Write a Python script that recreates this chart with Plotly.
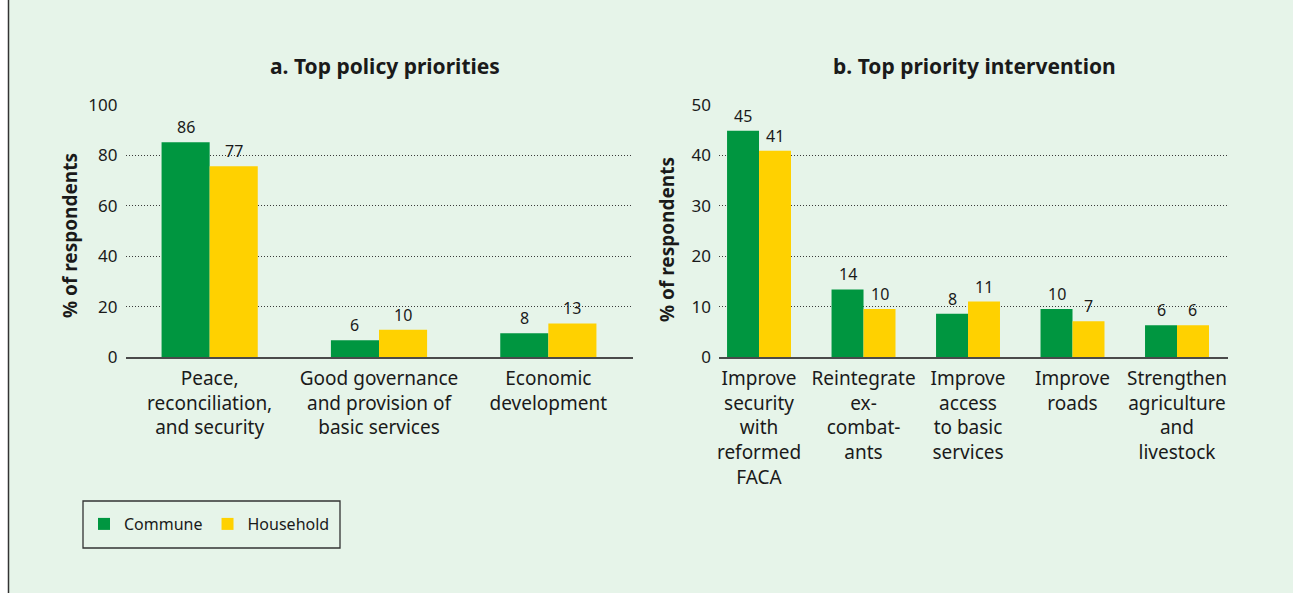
import plotly.graph_objects as go

W, H = 1293, 593

# ---------------- data ----------------
cats_a = ["Peace,<br>reconciliation,<br>and security",
          "Good governance<br>and provision of<br>basic services",
          "Economic<br>development"]
commune_a = [85.2, 6.6, 9.4]
household_a = [75.7, 10.8, 13.3]
commune_a_lbl = ["86", "6", "8"]
household_a_lbl = ["77", "10", "13"]

cats_b = ["Improve<br>security<br>with<br>reformed<br>FACA",
          "Reintegrate<br>ex-<br>combat-<br>ants",
          "Improve<br>access<br>to basic<br>services",
          "Improve<br>roads",
          "Strengthen<br>agriculture<br>and<br>livestock"]
commune_b = [44.9, 13.4, 8.6, 9.5, 6.3]
household_b = [40.9, 9.5, 11.0, 7.1, 6.3]
commune_b_lbl = ["45", "14", "8", "10", "6"]
household_b_lbl = ["41", "10", "11", "7", "6"]

title_a = "a. Top policy priorities"
title_b = "b. Top priority intervention"
ytitle = "% of respondents"
series_names = ["Commune", "Household"]

# ---------------- style ----------------
FONT = "Noto Sans, Open Sans, sans-serif"
GREEN = "#009640"
YELLOW = "#FFD100"
BG = "#E6F4E9"
TXT = "#1a1a1a"

def px_x(p):
    return p / W

def px_y(p):
    return (H - p) / H

wa = 0.284
wb = 0.306

fig = go.Figure()

for cats, com, hh, w, xa, ya, show in [
    (cats_a, commune_a, household_a, wa, "x", "y", True),
    (cats_b, commune_b, household_b, wb, "x2", "y2", False),
]:
    fig.add_trace(go.Bar(x=cats, y=com, name=series_names[0], marker_color=GREEN,
                         marker_line_width=0, width=w, offset=-w, xaxis=xa, yaxis=ya,
                         showlegend=show, legendgroup="c", hoverinfo="skip"))
    fig.add_trace(go.Bar(x=cats, y=hh, name=series_names[1], marker_color=YELLOW,
                         marker_line_width=0, width=w, offset=0, xaxis=xa, yaxis=ya,
                         showlegend=show, legendgroup="h", hoverinfo="skip"))

annotations = []
for cats, com, hh, cl, hl, w, xr, yr in [
    (cats_a, commune_a, household_a, commune_a_lbl, household_a_lbl, wa, "x", "y"),
    (cats_b, commune_b, household_b, commune_b_lbl, household_b_lbl, wb, "x2", "y2"),
]:
    for i in range(len(cats)):
        annotations.append(dict(x=i - w / 2, y=com[i], xref=xr, yref=yr, text=cl[i],
                                showarrow=False, xanchor="center", yanchor="bottom", yshift=2,
                                font=dict(size=16, color=TXT, family=FONT)))
        annotations.append(dict(x=i + w / 2, y=hh[i], xref=xr, yref=yr, text=hl[i],
                                showarrow=False, xanchor="center", yanchor="bottom", yshift=2,
                                font=dict(size=16, color=TXT, family=FONT)))

dom_a = [px_x(125.5), px_x(632.5)]
dom_b = [px_x(719), px_x(1228)]
ydom = [px_y(357), px_y(105)]

# titles
annotations.append(dict(x=px_x(385), y=px_y(66), xref="paper", yref="paper",
                        text="<b>" + title_a + "</b>", showarrow=False,
                        xanchor="center", yanchor="middle",
                        font=dict(size=21, color=TXT, family=FONT)))
annotations.append(dict(x=px_x(974), y=px_y(66), xref="paper", yref="paper",
                        text="<b>" + title_b + "</b>", showarrow=False,
                        xanchor="center", yanchor="middle",
                        font=dict(size=21, color=TXT, family=FONT)))
# y-axis titles
annotations.append(dict(x=px_x(70), y=px_y(236), xref="paper", yref="paper",
                        text="<b>" + ytitle + "</b>", showarrow=False, textangle=-90,
                        xanchor="center", yanchor="middle",
                        font=dict(size=19, color=TXT, family=FONT)))
annotations.append(dict(x=px_x(667), y=px_y(240), xref="paper", yref="paper",
                        text="<b>" + ytitle + "</b>", showarrow=False, textangle=-90,
                        xanchor="center", yanchor="middle",
                        font=dict(size=19, color=TXT, family=FONT)))

shapes = [
    # white strip on the far left and frame line
    dict(type="rect", xref="paper", yref="paper", x0=0, x1=px_x(8), y0=0, y1=1,
         fillcolor="white", line_width=0, layer="below"),
    dict(type="line", xref="paper", yref="paper", x0=px_x(8.5), x1=px_x(8.5), y0=0, y1=1,
         line=dict(color="#333333", width=1.5)),
    # legend box
    dict(type="rect", xref="paper", yref="paper", x0=px_x(83), x1=px_x(340),
         y0=px_y(548), y1=px_y(501), line=dict(color="#333333", width=1.3),
         fillcolor="rgba(0,0,0,0)"),
]

grid = dict(showgrid=True, gridcolor="#3a3a3a", gridwidth=1, griddash="1px,2px",
            zeroline=False, showline=False, ticks="", ticklabelstandoff=7, automargin=False,
            tickfont=dict(size=17, color=TXT, family=FONT))
xcommon = dict(type="category", showgrid=False, zeroline=False, showline=True,
               linecolor="#4a4a4a", linewidth=2, ticks="", ticklabelstandoff=3, automargin=False,
               tickfont=dict(size=19, color=TXT, family=FONT))

fig.update_layout(
    template="none",
    width=W, height=H,
    margin=dict(l=0, r=0, t=0, b=0, pad=0, autoexpand=False),
    paper_bgcolor=BG, plot_bgcolor="rgba(0,0,0,0)",
    barmode="overlay",
    font=dict(family=FONT, color=TXT),
    xaxis=dict(domain=dom_a, range=[-0.497, 2.497], anchor="y", **xcommon),
    yaxis=dict(domain=ydom, range=[0, 100], dtick=20, anchor="x", **grid),
    xaxis2=dict(domain=dom_b, range=[-0.383, 4.488], anchor="y2", **xcommon),
    yaxis2=dict(domain=ydom, range=[0, 50], dtick=10, anchor="x2", **grid),
    legend=dict(orientation="h", x=px_x(84), y=px_y(524), xanchor="left", yanchor="middle",
                bgcolor="rgba(0,0,0,0)", borderwidth=0,
                font=dict(size=16, color=TXT, family=FONT), traceorder="normal"),
    annotations=annotations,
    shapes=shapes,
)

fig.write_html("out.html")
